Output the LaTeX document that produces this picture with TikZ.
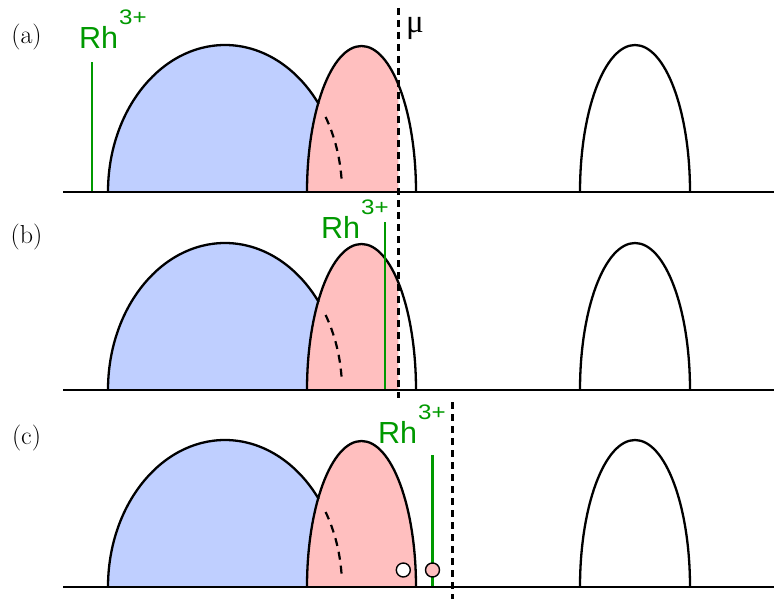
\documentclass[tikz,border=0pt]{standalone}
\usepackage{fontspec}
\usepackage{graphicx}
\newfontfamily\rhfont{Liberation Sans}
\newfontfamily\mufont{Liberation Serif}
\definecolor{bluefill}{RGB}{191,207,255}
\definecolor{pinkfill}{RGB}{255,191,191}
\definecolor{rhgreen}{RGB}{0,153,0}
\tikzset{
 outline/.style={black,line width=2.3pt},
 axisline/.style={black,line width=2.5pt},
 levelline/.style={rhgreen,line width=2.3pt},
 mudash/.style={black,line width=2.6pt,dash pattern=on 7pt off 5pt},
 hiddenedge/.style={black,line width=2.2pt,dash pattern=on 8pt off 6pt},
 panellabel/.style={font=\fontsize{26}{26}\selectfont,inner sep=0pt},
 rhlabel/.style={text=rhgreen,inner sep=0pt,anchor=base west,font=\rhfont\fontsize{30.5}{30}\selectfont},
 hole/.style={circle,draw=black,line width=1.4pt,fill=white,minimum size=14pt,inner sep=0pt},
 ionball/.style={hole,fill=pinkfill},
}
\newcommand{\rhtext}{Rh\kern1pt\raisebox{24pt}{\rhfont\fontsize{21}{21}\selectfont\scalebox{1.15}[1]{3+}}}
\newcommand{\drawbands}[1]{%
 \fill[bluefill] (108,0) arc[start angle=180,end angle=0,x radius=117pt,y radius=147pt] -- cycle;
 \begin{scope}
  \clip (300,-1) rectangle (#1,160);
  \fill[pinkfill] (307,0) arc[start angle=180,end angle=0,x radius=54.5pt,y radius=146pt] -- cycle;
 \end{scope}
 \draw[outline] (108,0) arc[start angle=180,end angle=36.8,x radius=117pt,y radius=147pt];
 \draw[outline] (307,0) arc[start angle=180,end angle=0,x radius=54.5pt,y radius=146pt];
 \draw[hiddenedge] ({225+117*cos(30.7)},{147*sin(30.7)}) arc[start angle=30.7,end angle=3.5,x radius=117pt,y radius=147pt];
 \draw[outline] (580,0) arc[start angle=180,end angle=0,x radius=55pt,y radius=147pt];
}
\begin{document}
\begin{tikzpicture}[x=1pt,y=1pt]
\useasboundingbox (0,0) rectangle (774,-599);
% panel (a)
\begin{scope}[yshift=-192pt]
 \drawbands{398.3}
 \coordinate (ga0) at (92,0);
 \coordinate (ga1) at (92,130);
 \draw[levelline] (ga0) -- (ga1);
 \coordinate (axa0) at (63,0);
 \coordinate (axa1) at (774,0);
 \draw[axisline] (axa0) -- (axa1);
\end{scope}
% panel (b)
\begin{scope}[yshift=-390pt]
 \drawbands{398.3}
 \coordinate (gb0) at (385,0);
 \coordinate (gb1) at (385,168);
 \draw[levelline] (gb0) -- (gb1);
 \coordinate (axb0) at (63,0);
 \coordinate (axb1) at (774,0);
 \draw[axisline] (axb0) -- (axb1);
\end{scope}
% panel (c)
\begin{scope}[yshift=-587pt]
 \drawbands{420}
 \coordinate (gc0) at (432.5,0);
 \coordinate (gc1) at (432.5,132);
 \draw[levelline] (gc0) -- (gc1);
 \coordinate (axc0) at (63,0);
 \coordinate (axc1) at (774,0);
 \draw[axisline] (axc0) -- (axc1);
 \node[hole] (holec) at (403.3,17) {};
 \node[ionball] (ionc) at (432.5,17) {};
\end{scope}
% chemical potential lines
\coordinate (muTop) at (398.3,-8);
\coordinate (muBot) at (398.3,-398);
\draw[mudash] (muTop) -- (muBot);
\coordinate (mucTop) at (452.7,-402);
\coordinate (mucBot) at (452.7,-599);
\draw[mudash] (mucTop) -- (mucBot);
% labels
\node[panellabel] (la) at (26.5,-37.5) {(a)};
\node[panellabel] (lb) at (26.5,-237.5) {(b)};
\node[panellabel] (lc) at (26.5,-438) {(c)};
\node[rhlabel] (rha) at (79,-48.3) {\rhtext};
\node[rhlabel] (rhb) at (321,-238) {\rhtext};
\node[rhlabel] (rhc) at (378,-443) {\rhtext};
\node[inner sep=0pt,anchor=base west,font=\mufont\fontsize{33}{33}\selectfont] (mu) at (406,-33) {μ};
\end{tikzpicture}
\end{document}
